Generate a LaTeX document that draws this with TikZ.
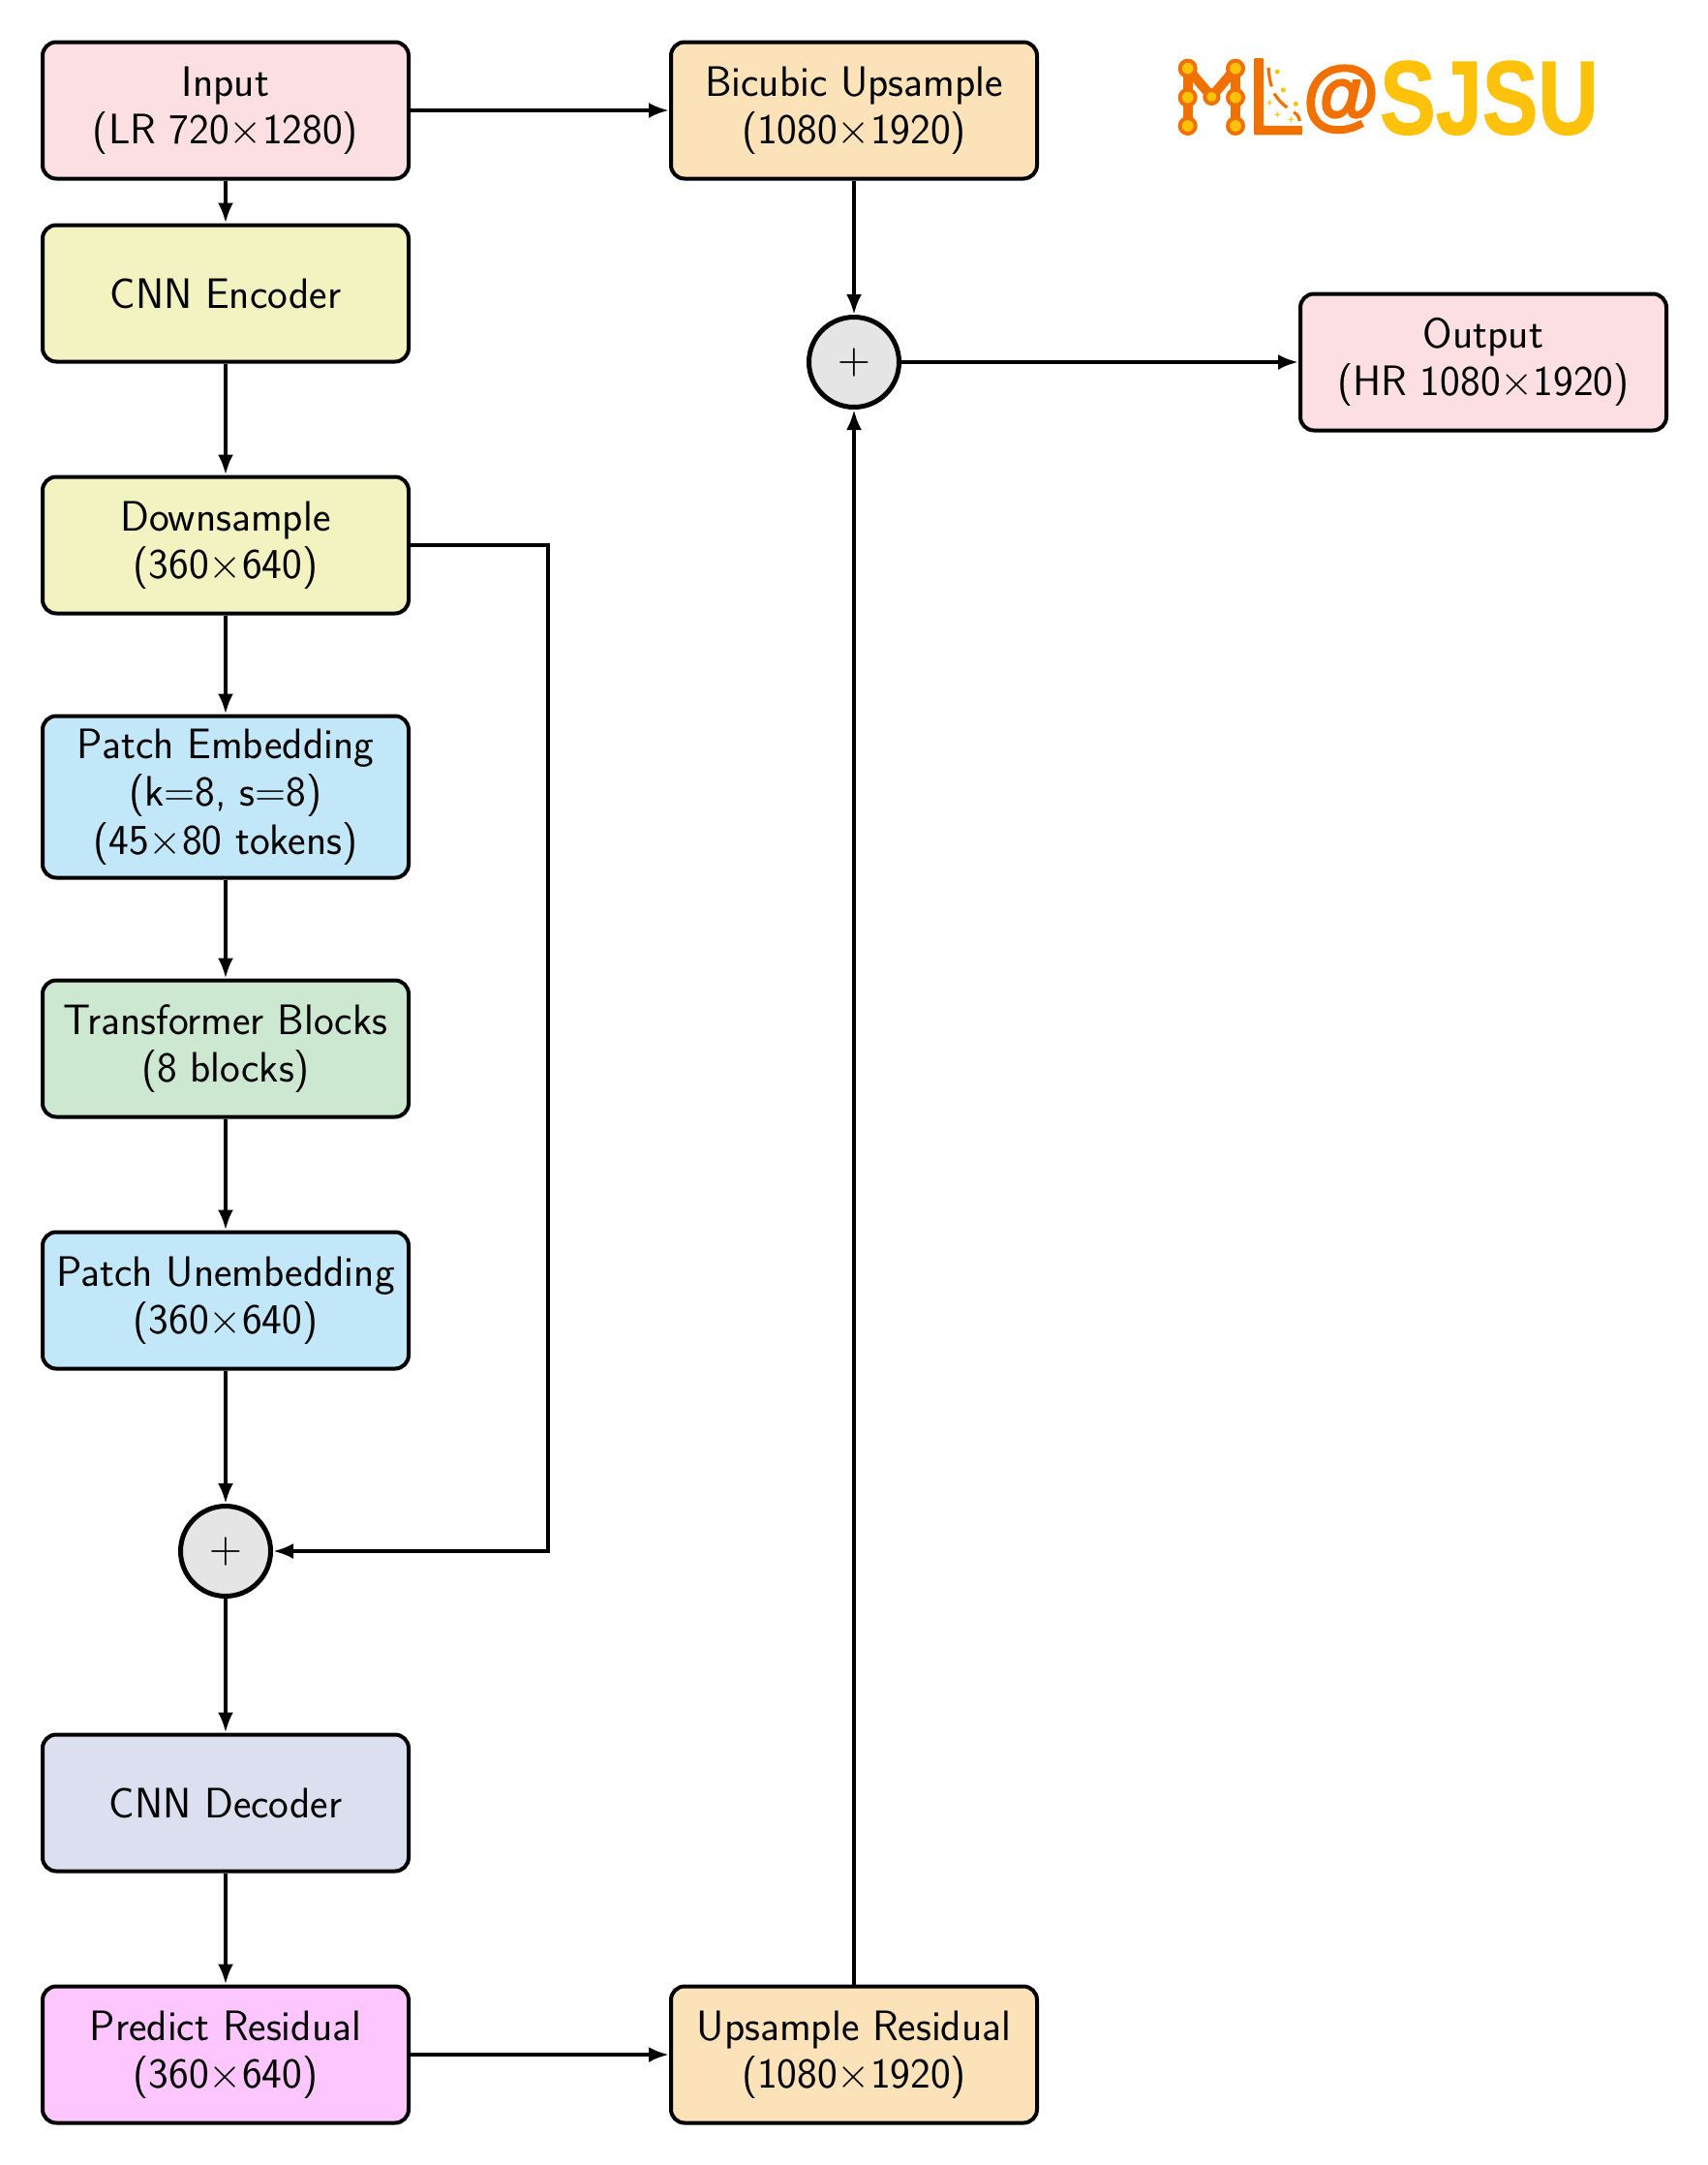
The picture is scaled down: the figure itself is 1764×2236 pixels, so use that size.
\documentclass[tikz,border=0pt]{standalone}
\usepackage{graphicx}
\usepackage{fontspec}
\newfontfamily\logofont{Liberation Sans Bold}[FakeBold=1.2]
\newfontfamily\logoatfont{Liberation Sans Bold}[FakeBold=3]
\newcommand{\tmsign}{\scalebox{4.4}{\fontsize{10}{12}\selectfont$\times$}}
\newcommand{\plsign}{\scalebox{4.4}{\fontsize{10}{12}\selectfont$+$}}
\usetikzlibrary{arrows.meta,positioning,calc}
\definecolor{cpink}{HTML}{FCDFE3}
\definecolor{cyel}{HTML}{F3F3C1}
\definecolor{cblue}{HTML}{C1E7F8}
\definecolor{cgreen}{HTML}{CCE8D1}
\definecolor{clav}{HTML}{DCDFF0}
\definecolor{cmag}{HTML}{FDC6FE}
\definecolor{corg}{HTML}{FBE2B8}
\definecolor{csum}{HTML}{E5E5E5}
\definecolor{logoO}{HTML}{F07000}
\definecolor{logoY}{HTML}{FFC20A}
\tikzset{
  blockbox/.style={draw=black,line width=4pt,rounded corners=14pt,minimum width=378pt,minimum height=141pt,inner sep=0pt,align=center,font=\sffamily\fontsize{44}{49.5}\selectfont},
  sumnode/.style={draw=black,line width=5pt,circle,fill=csum,minimum size=93pt,inner sep=0pt},
  link/.style={line width=4pt,-{Latex[length=21pt,width=16pt]}},
  logodot/.style={fill=logoY,draw=logoO,line width=4pt},
  logostroke/.style={draw=logoO,line width=3.2pt},
}
\begin{document}
\begin{tikzpicture}[x=1pt,y=-1pt]
\useasboundingbox (0,0) rectangle (1764,2236);
\node[blockbox,fill=cpink] (input) at (233,114) {Input\\(LR 720\tmsign 1280)};
\node[blockbox,fill=cyel] (enc) at (233,303) {CNN Encoder};
\node[blockbox,fill=cyel] (down) at (233,563) {Downsample\\(360\tmsign 640)};
\node[blockbox,fill=cblue,minimum height=167pt] (patch) at (233,823) {Patch Embedding\\(k=8, s=8)\\(45\tmsign 80 tokens)};
\node[blockbox,fill=cgreen] (trans) at (233,1083) {Transformer Blocks\\(8 blocks)};
\node[blockbox,fill=cblue] (unemb) at (233,1343) {Patch Unembedding\\(360\tmsign 640)};
\node[sumnode] (sumA) at (233,1602) {\plsign};
\node[blockbox,fill=clav] (dec) at (233,1862) {CNN Decoder};
\node[blockbox,fill=cmag] (pred) at (233,2122) {Predict Residual\\(360\tmsign 640)};
\node[blockbox,fill=corg] (bic) at (882,114) {Bicubic Upsample\\(1080\tmsign 1920)};
\node[sumnode] (sumB) at (882,374) {\plsign};
\node[blockbox,fill=cpink] (out) at (1532,374) {Output\\(HR 1080\tmsign 1920)};
\node[blockbox,fill=corg] (upres) at (882,2122) {Upsample Residual\\(1080\tmsign 1920)};
\coordinate (skipA) at (566,563);
\coordinate (skipB) at (566,1602);
\draw[link] (input) -- (enc);
\draw[link] (enc) -- (down);
\draw[link] (down) -- (patch);
\draw[link] (patch) -- (trans);
\draw[link] (trans) -- (unemb);
\draw[link] (unemb) -- (sumA);
\draw[link] (sumA) -- (dec);
\draw[link] (dec) -- (pred);
\draw[link] (input) -- (bic);
\draw[link] (bic) -- (sumB);
\draw[link] (sumB) -- (out);
\draw[link] (pred) -- (upres);
\draw[link] (upres) -- (sumB);
\draw[link] (down.east) -- (skipA) -- (skipB) -- (sumA.east);
% logo
\begin{scope}[shift={(1180,30)},x=0.3333pt,y=-0.3333pt]
  \draw[draw=logoO,line width=10pt] (140,122) -- (140,300) (288,122) -- (288,300);
  \draw[draw=logoO,line width=10pt] (140,122) -- (214,210) -- (288,122);
  \foreach \p in {(140,122),(288,122),(140,212),(288,212),(140,300),(288,300)}
    \draw[logodot] \p circle (24);
  \draw[logodot] (214,210) circle (21);
  \fill[logoO,rounded corners=1pt] (345,90) -- (375,90) -- (375,300) -- (495,300) -- (495,328) -- (345,328) -- cycle;
  \draw[logostroke] (390,120) .. controls (392,140) and (394,160) .. (400,178);
  \draw[logostroke] (408,200) .. controls (420,218) and (432,232) .. (448,243);
  \draw[logostroke] (468,258) .. controls (478,262) and (485,272) .. (487,285);
  \fill[logoY] (418,132) circle (7.5) (436,189) circle (7.5) (475,232) circle (7.5);
  \foreach \c in {(394,228),(418,265),(460,280)}
    \fill[logoY] \c ++(-11,0) -- ++(9,-2) -- ++(2,-9) -- ++(2,9) -- ++(9,2) -- ++(-9,2) -- ++(-2,9) -- ++(-2,-9) -- cycle;
  \node[anchor=center,inner sep=0pt,text=logoO,font=\logoatfont\fontsize{80}{80}\selectfont] (at) at (615,217) {@};
  \node[anchor=base west,inner sep=0pt,text=logoY,xscale=0.8,font=\logofont\fontsize{108}{108}\selectfont] (sjsu) at (735,325) {SJSU};
\end{scope}
\end{tikzpicture}
\end{document}
